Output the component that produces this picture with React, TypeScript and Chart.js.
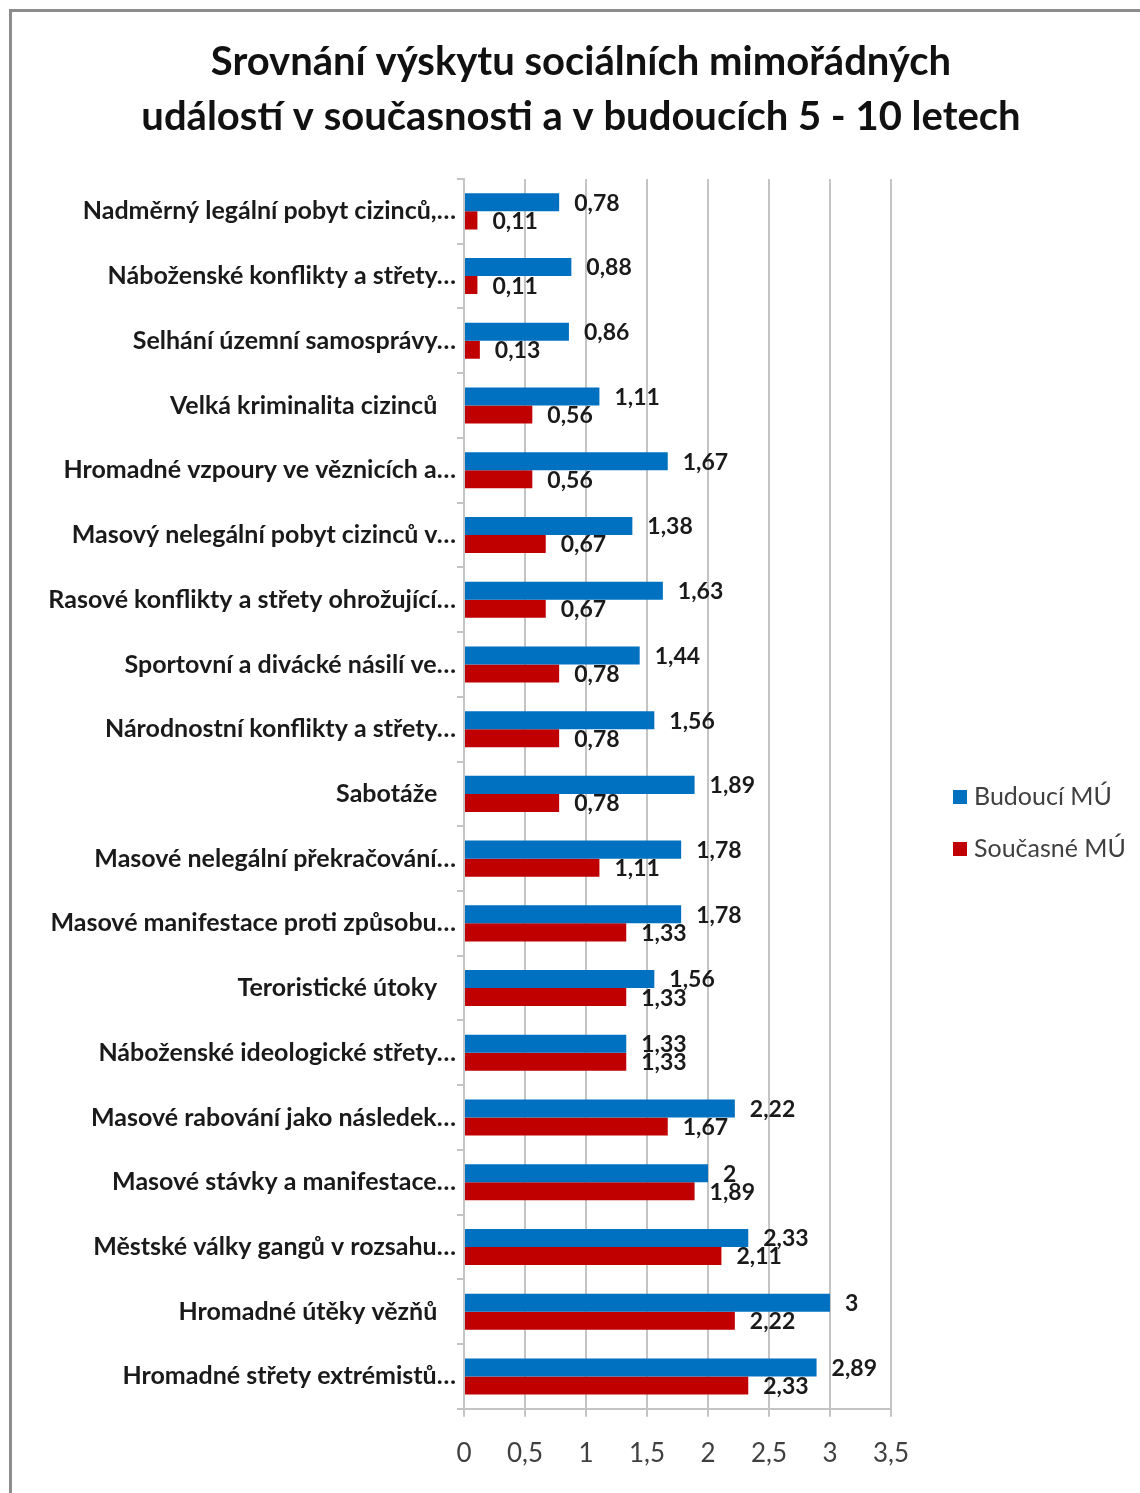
import React, { useEffect, useRef } from "react";
import { Chart, registerables } from "chart.js";

Chart.register(...registerables);

const titleLines = [
  "Srovnání výskytu sociálních mimořádných",
  "událostí v současnosti a v budoucích 5 - 10 letech",
];

const categories = [
  "Nadměrný legální pobyt cizinců,…",
  "Náboženské konflikty a střety…",
  "Selhání územní samosprávy…",
  "Velká kriminalita cizinců",
  "Hromadné vzpoury ve věznicích a…",
  "Masový nelegální pobyt cizinců v…",
  "Rasové konflikty a střety ohrožující…",
  "Sportovní a divácké násilí ve…",
  "Národnostní konflikty a střety…",
  "Sabotáže",
  "Masové nelegální překračování…",
  "Masové manifestace proti způsobu…",
  "Teroristické útoky",
  "Náboženské ideologické střety…",
  "Masové rabování jako následek…",
  "Masové stávky a manifestace…",
  "Městské války gangů v rozsahu…",
  "Hromadné útěky vězňů",
  "Hromadné střety extrémistů…",
];

const seriesNames = ["Budoucí MÚ", "Současné MÚ"];

const budouci = [0.78, 0.88, 0.86, 1.11, 1.67, 1.38, 1.63, 1.44, 1.56, 1.89, 1.78, 1.78, 1.56, 1.33, 2.22, 2, 2.33, 3, 2.89];
const soucasne = [0.11, 0.11, 0.13, 0.56, 0.56, 0.67, 0.67, 0.78, 0.78, 0.78, 1.11, 1.33, 1.33, 1.33, 1.67, 1.89, 2.11, 2.22, 2.33];

const xMin = 0;
const xMax = 3.5;
const xStep = 0.5;

const FONT = "Lato, 'Open Sans', sans-serif";

const fmt = (v: number) => String(v).replace(".", ",");

const titlePlugin = {
  id: "customTitle",
  afterDraw(chart: any) {
    const ctx = chart.ctx;
    ctx.save();
    ctx.font = `bold 40px ${FONT}`;
    ctx.fillStyle = "#111111";
    ctx.textAlign = "center";
    ctx.textBaseline = "middle";
    titleLines.forEach((line, i) => {
      ctx.fillText(line, 581, 62 + i * 55);
    });
    ctx.restore();
  },
};

const dataLabelPlugin = {
  id: "dataLabels",
  afterDatasetsDraw(chart: any) {
    const ctx = chart.ctx;
    ctx.save();
    ctx.font = `bold 23px ${FONT}`;
    ctx.fillStyle = "#1a1a1a";
    ctx.textAlign = "left";
    ctx.textBaseline = "middle";
    chart.data.datasets.forEach((ds: any, di: number) => {
      const meta = chart.getDatasetMeta(di);
      meta.data.forEach((el: any, i: number) => {
        ctx.fillText(fmt(ds.data[i]), el.x + 15, el.y + 1);
      });
    });
    ctx.restore();
  },
};

const legendPlugin = {
  id: "customLegend",
  afterDraw(chart: any) {
    const ctx = chart.ctx;
    ctx.save();
    ctx.font = `25px ${FONT}`;
    ctx.textBaseline = "middle";
    ctx.textAlign = "left";
    const x = 953;
    const y0 = 797;
    const gap = 52;
    chart.data.datasets.forEach((ds: any, i: number) => {
      const y = y0 + i * gap;
      ctx.fillStyle = ds.backgroundColor;
      ctx.fillRect(x, y - 7, 14, 14);
      ctx.fillStyle = "#404040";
      ctx.fillText(ds.label, x + 21, y);
    });
    ctx.restore();
  },
};

export default function App() {
  const ref = useRef<HTMLCanvasElement | null>(null);

  useEffect(() => {
    if (!ref.current) return;
    const chart = new Chart(ref.current, {
      type: "bar",
      data: {
        labels: categories,
        datasets: [
          {
            label: seriesNames[0],
            data: budouci,
            backgroundColor: "#0070C0",
            categoryPercentage: 0.557,
            barPercentage: 1,
          },
          {
            label: seriesNames[1],
            data: soucasne,
            backgroundColor: "#C00000",
            categoryPercentage: 0.557,
            barPercentage: 1,
          },
        ],
      },
      options: {
        indexAxis: "y",
        responsive: false,
        animation: false,
        devicePixelRatio: 1,
        layout: { padding: { left: 0, right: 249, top: 179, bottom: 3 } },
        plugins: {
          legend: { display: false },
          tooltip: { enabled: false },
          title: { display: false },
        },
        scales: {
          x: {
            min: xMin,
            max: xMax,
            ticks: {
              stepSize: xStep,
              color: "#404040",
              font: { family: FONT, size: 26 },
              padding: 21,
              callback: (v: any) => fmt(Number(v)),
            },
            grid: {
              color: "#c4c4c4",
              lineWidth: 2,
              tickLength: 8,
              drawTicks: true,
            },
            border: { color: "#c4c4c4", width: 2 },
          },
          y: {
            afterFit: (s: any) => {
              s.width = 464;
            },
            ticks: {
              color: "#1a1a1a",
              font: { family: FONT, size: 25, weight: "bold" },
              padding: 1,
              callback: function (this: any, _v: any, i: number) {
                const l = categories[i];
                return l.endsWith("…") ? l : l + "\u2002\u2005";
              },
            },
            grid: {
              drawOnChartArea: false,
              drawTicks: true,
              tickLength: 7,
              color: "#c4c4c4",
              lineWidth: 2,
            },
            border: { color: "#c4c4c4", width: 2 },
          },
        },
      },
      plugins: [dataLabelPlugin, legendPlugin, titlePlugin],
    });
    return () => chart.destroy();
  }, []);

  return (
    <div style={{ position: "absolute", left: 0, top: 0, width: 1140, height: 1493, background: "#fff", overflow: "hidden" }}>
      <div
        style={{
          position: "absolute",
          left: 9,
          top: 9,
          width: 1140,
          height: 1500,
          borderLeft: "3px solid #8c8c8c",
          borderTop: "3px solid #8c8c8c",
        }}
      />
      <canvas ref={ref} width={1140} height={1493} style={{ position: "absolute", left: 0, top: 0 }} />
    </div>
  );
}
